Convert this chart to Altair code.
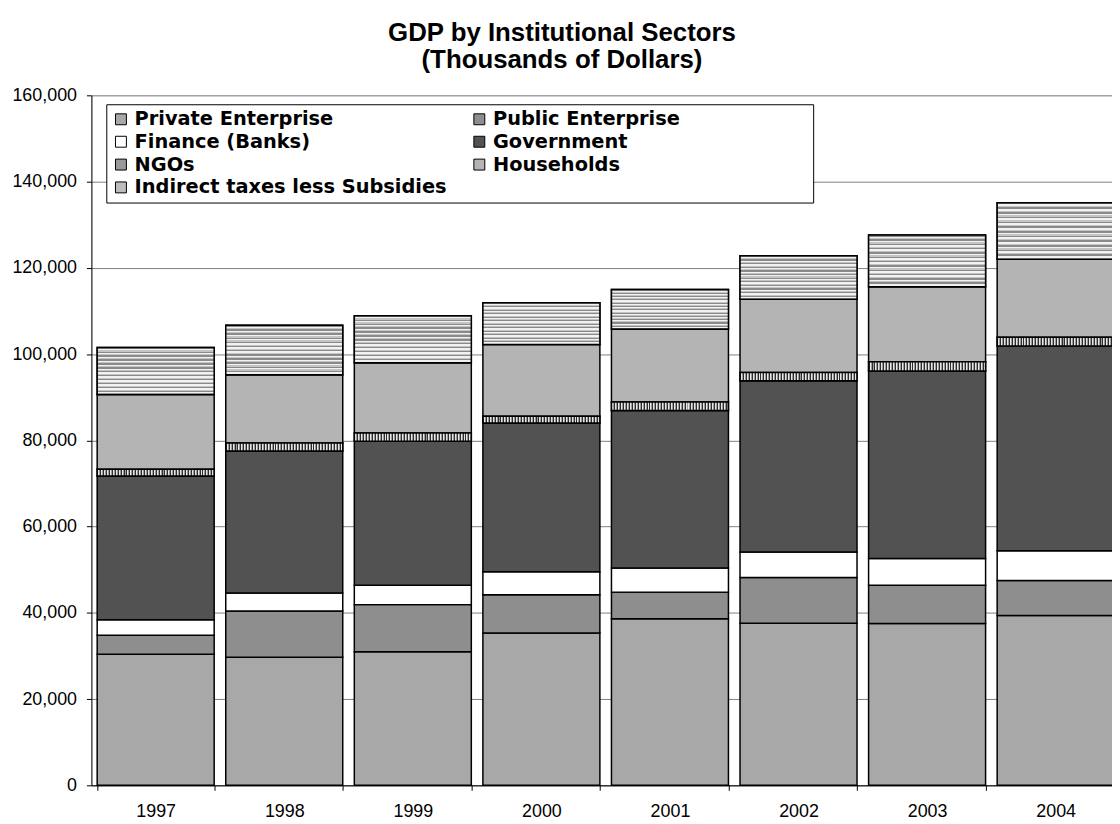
import altair as alt
import pandas as pd

years = ["1997", "1998", "1999", "2000", "2001", "2002", "2003", "2004"]
sectors = ["Private Enterprise", "Public Enterprise", "Finance (Banks)", "Government",
           "NGOs", "Households", "Indirect taxes less Subsidies"]

private = [30400, 29700, 31000, 35300, 38600, 37600, 37500, 39400]
public = [4400, 10700, 10900, 8900, 6200, 10600, 8900, 8100]
finance = [3600, 4200, 4500, 5300, 5600, 5900, 6200, 6900]
government = [33300, 32900, 33400, 34500, 36500, 39700, 43500, 47500]
ngos = [1600, 1900, 1900, 1600, 2000, 1900, 2100, 2000]
households = [17300, 15800, 16300, 16600, 16900, 17000, 17400, 18100]
indirect = [10900, 11500, 10900, 9700, 9200, 10100, 12000, 13100]

y_ticks = [0, 20000, 40000, 60000, 80000, 100000, 120000, 140000, 160000]

series = [private, public, finance, government, ngos, households, indirect]
rows = []
for order, (name, vals) in enumerate(zip(sectors, series)):
    for yr, v in zip(years, vals):
        rows.append({"year": yr, "sector": name, "value": v, "order": order})
df = pd.DataFrame(rows)

fills = ["#a8a8a8", "#8e8e8e", "#ffffff", "#525252", "#9a9a9a", "#b4b4b4", "#bdbdbd"]


def stripes(n, colors, fracs, vertical_lines):
    stops = []
    for i in range(n):
        acc = i / n
        for c, f in zip(colors, fracs):
            end = acc + f / n
            stops.append({"offset": round(acc, 5), "color": c})
            stops.append({"offset": round(min(end, 1.0), 5), "color": c})
            acc = end
    if vertical_lines:
        return {"gradient": "linear", "x1": 0, "y1": 0, "x2": 1, "y2": 0, "stops": stops}
    return {"gradient": "linear", "x1": 0, "y1": 0, "x2": 0, "y2": 1, "stops": stops}


ngo_fill = stripes(40, ["#2e2e2e", "#e6e6e6", "#9c9c9c"], [0.34, 0.33, 0.33], True)
ind_fill = stripes(12, ["#8a8a8a", "#f2f2f2", "#c4c4c4"], [0.35, 0.35, 0.30], False)

base = alt.Chart(df).transform_stack(
    stack="value", groupby=["year"], as_=["v0", "v1"],
    sort=[alt.SortField("order", order="ascending")]
)

x_scale = alt.Scale(range=[0, 1036], paddingInner=0.09, paddingOuter=0.045)
y_scale = alt.Scale(domain=[0, 160000], nice=False)

x_enc = alt.X("year:N", sort=years, scale=x_scale,
              axis=alt.Axis(title=None, labelAngle=0, tickBand="extent", tickSize=5,
                            domainColor="black", tickColor="black", labelColor="black",
                            labelFontSize=18, labelPadding=12, grid=False,
                            labelFont="Liberation Sans"))
y_enc = alt.Y("v0:Q", scale=y_scale,
              axis=alt.Axis(title=None, values=y_ticks, format=",.0f", tickSize=5,
                            domainColor="black", tickColor="black", labelColor="black",
                            labelFontSize=18, labelPadding=10, gridColor="#808080",
                            labelFont="Liberation Sans"))

# widen the legend frame to the reference's width (invisible trailing space)
legend_pad = "\u00a0" * 19 + "\u200b"
label_expr = ("datum.label == 'Public Enterprise' ? datum.label + '" + legend_pad +
              "' : datum.label")

bars = base.mark_bar(stroke="black", strokeWidth=1.5).encode(
    x=x_enc,
    y=y_enc,
    y2="v1:Q",
    color=alt.Color("sector:N", sort=sectors,
                    scale=alt.Scale(domain=sectors, range=fills),
                    legend=alt.Legend(orient="none", legendX=15, legendY=9, columns=2,
                                      direction="horizontal",
                                      title=None, symbolType="square", symbolSize=121,
                                      symbolStrokeColor="black", symbolStrokeWidth=1,
                                      symbolOpacity=1,
                                      labelFont="DejaVu Sans", labelFontSize=19.5,
                                      labelFontWeight="bold", labelColor="black",
                                      labelOffset=4, rowPadding=2, columnPadding=22,
                                      padding=5, strokeColor="black", fillColor="white",
                                      labelLimit=0, labelExpr=label_expr)),
)

ngo_layer = base.transform_filter(alt.datum.sector == "NGOs").mark_bar(
    fill=ngo_fill, stroke="black", strokeWidth=1.5
).encode(x=x_enc, y=y_enc, y2="v1:Q")

ind_layer = base.transform_filter(alt.datum.sector == "Indirect taxes less Subsidies").mark_bar(
    fill=ind_fill, stroke="black", strokeWidth=1.5
).encode(x=x_enc, y=y_enc, y2="v1:Q")

chart = alt.layer(bars, ngo_layer, ind_layer).properties(
    width=1028, height=695,
    autosize=alt.AutoSizeParams(type="none"),
    padding={"left": 84, "top": 85, "right": 0, "bottom": 36},
    title=alt.Title(["GDP by Institutional Sectors", "(Thousands of Dollars)"],
                    font="Liberation Sans", fontSize=26, fontWeight="bold", color="black",
                    anchor="middle", dx=-40, offset=14, lineHeight=27),
).configure_view(strokeWidth=0).configure(background="white")

chart.save("out.html", embed_options={"renderer": "svg", "actions": False})
